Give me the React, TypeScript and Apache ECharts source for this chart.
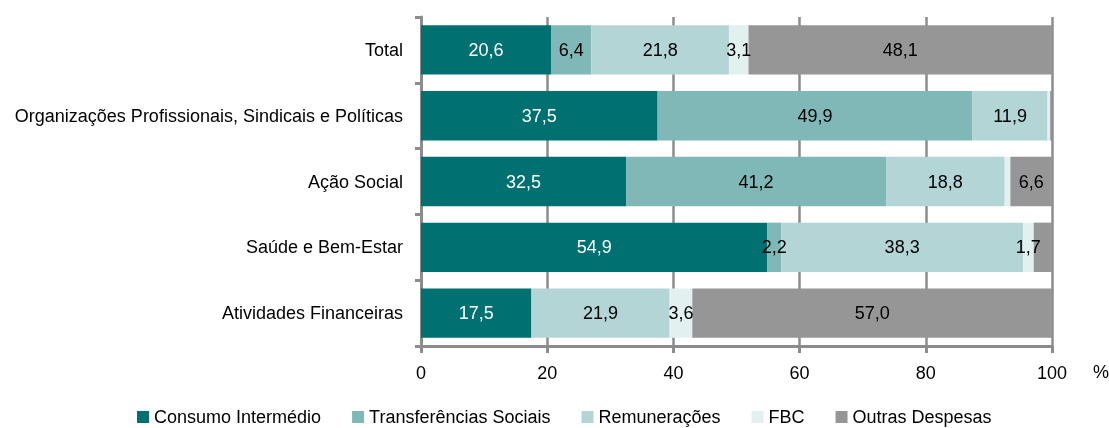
import React, { useEffect, useRef } from "react";
import * as echarts from "echarts";

const categories = [
  "Total",
  "Organizações Profissionais, Sindicais e Políticas",
  "Ação Social",
  "Saúde e Bem-Estar",
  "Atividades Financeiras",
];

const seriesNames = [
  "Consumo Intermédio",
  "Transferências Sociais",
  "Remunerações",
  "FBC",
  "Outras Despesas",
];

const consumoIntermedio = [20.6, 37.5, 32.5, 54.9, 17.5];
const transferenciasSociais = [6.4, 49.9, 41.2, 2.2, 0];
const remuneracoes = [21.8, 11.9, 18.8, 38.3, 21.9];
const fbc = [3.1, 0.4, 0.9, 1.7, 3.6];
const outrasDespesas = [48.1, 0.3, 6.6, 2.9, 57.0];

// [seriesIndex, categoryIndex] of segments whose value is not printed
const unlabeled: [number, number][] = [
  [3, 1],
  [4, 1],
  [3, 2],
  [4, 3],
  [1, 4],
];

const xTicks = [0, 20, 40, 60, 80, 100];

const colors = ["#007070", "#80b8b8", "#b3d5d5", "#e3f0f0", "#969696"];
const labelColors = ["#ffffff", "#000000", "#000000", "#000000", "#000000"];

const FONT = '"Liberation Sans", Arial, Helvetica, sans-serif';
const AXIS_GREY = "#8c8c8c";

export default function App() {
  const ref = useRef<HTMLDivElement>(null);

  useEffect(() => {
    if (!ref.current) return;
    const chart = echarts.init(ref.current, null, { renderer: "svg" });
    const values = [consumoIntermedio, transferenciasSociais, remuneracoes, fbc, outrasDespesas];

    const series = values.map((arr, si) => ({
      name: seriesNames[si],
      type: "bar",
      stack: "total",
      barCategoryGap: "25%",
      itemStyle: { color: colors[si] },
      data: arr.map((v, ci) => {
        const hidden = unlabeled.some(([s, c]) => s === si && c === ci);
        return {
          value: v,
          label: { show: !hidden },
        };
      }),
      label: {
        show: true,
        position: "inside",
        color: labelColors[si],
        fontFamily: FONT,
        fontSize: 18,
        formatter: (p: any) => Number(p.value).toFixed(1).replace(".", ","),
      },
      emphasis: { disabled: true },
    }));

    chart.setOption({
      animation: false,
      textStyle: { fontFamily: FONT },
      grid: { left: 421, right: 57, top: 17, bottom: 82, containLabel: false },
      legend: {
        data: seriesNames,
        left: 137,
        top: 408,
        icon: "rect",
        itemWidth: 12,
        itemHeight: 12,
        itemGap: 31,
        padding: 0,
        textStyle: { fontFamily: FONT, fontSize: 18, color: "#000" },
        selectedMode: false,
      },
      xAxis: {
        type: "value",
        min: 0,
        max: 100,
        interval: 20,
        axisLine: { show: true, lineStyle: { color: AXIS_GREY, width: 3 } },
        axisTick: { show: true, length: 7, lineStyle: { color: AXIS_GREY, width: 3 } },
        splitLine: { show: true, lineStyle: { color: AXIS_GREY, width: 2.5 } },
        axisLabel: {
          margin: 18,
          fontFamily: FONT,
          fontSize: 18,
          color: "#000",
          formatter: (v: number) => (xTicks.includes(v) ? String(v) : ""),
        },
      },
      yAxis: {
        type: "category",
        inverse: true,
        data: categories,
        axisLine: { show: true, lineStyle: { color: AXIS_GREY, width: 3 } },
        axisTick: { show: true, length: 6, lineStyle: { color: AXIS_GREY, width: 3 } },
        axisLabel: {
          margin: 18,
          fontFamily: FONT,
          fontSize: 18,
          color: "#000",
        },
      },
      graphic: [
        {
          type: "text",
          left: 1093,
          top: 363,
          style: { text: "%", fontFamily: FONT, fontSize: 18, fill: "#000" },
        },
      ],
      series,
    });

    return () => chart.dispose();
  }, []);

  return (
    <div
      ref={ref}
      style={{ position: "fixed", left: 0, top: 0, width: 1109, height: 428 }}
    />
  );
}
